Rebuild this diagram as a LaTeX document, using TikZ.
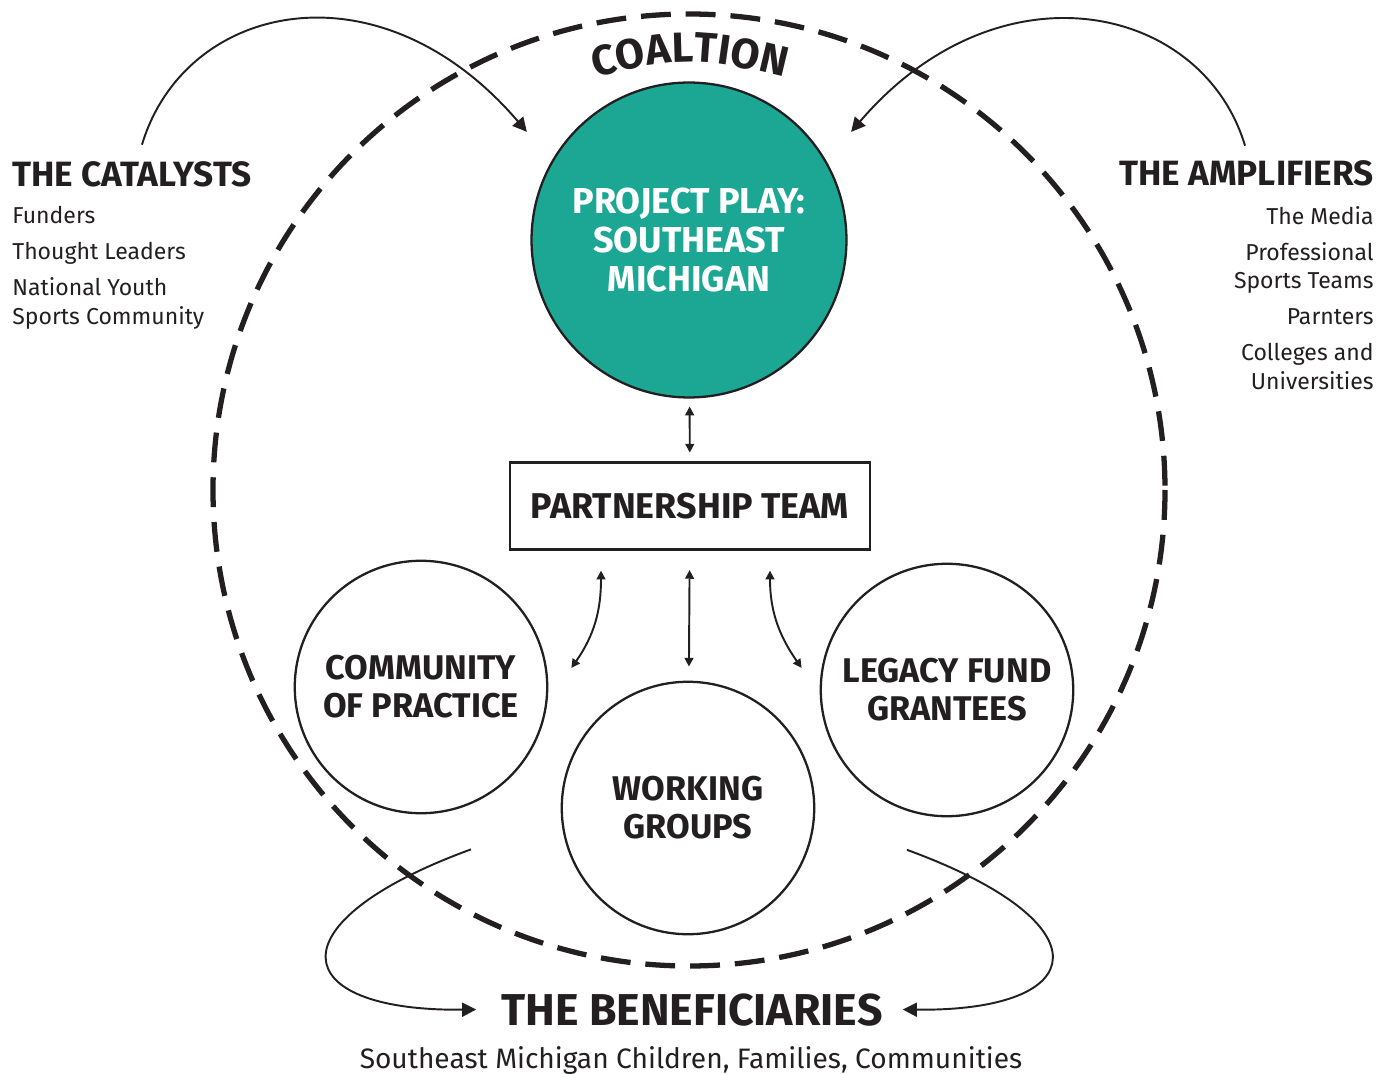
\documentclass[tikz,border=0pt]{standalone}
\usepackage{fontspec}
\setmainfont{Fira Sans}
\usetikzlibrary{arrows.meta,decorations.text}

\definecolor{ink}{RGB}{35,31,32}
\definecolor{teal}{RGB}{27,167,148}

\newcommand{\headfont}{\bfseries\fontsize{20pt}{22pt}\selectfont}
\newcommand{\listfont}{\fontsize{13.1pt}{16.4pt}\selectfont}

\tikzset{
  heading/.style={inner sep=0pt, text=ink, font=\headfont},
  listing/.style={inner sep=0pt, text=ink, font=\listfont},
  hub/.style={circle, draw=ink, line width=1.3pt, fill=teal, minimum size=6.3cm,
    text=white, align=center, font=\bfseries\fontsize{20.5pt}{22pt}\selectfont},
  group/.style={circle, draw=ink, line width=1.3pt, minimum size=5.05cm,
    text=ink, align=center, font=\bfseries\fontsize{19.5pt}{21.5pt}\selectfont},
  teambox/.style={draw=ink, line width=1.3pt, minimum width=7.2cm, minimum height=1.74cm,
    text=ink, font=\bfseries\fontsize{20.4pt}{22pt}\selectfont},
  link/.style={ink, line width=1.1pt, {Triangle[length=5pt,width=5pt]}-{Triangle[length=5pt,width=5pt]}},
  bigarrow/.style={ink, line width=1.1pt, -{Triangle[length=8pt,width=8pt]}}
}

\begin{document}
\begin{tikzpicture}[x=0.02cm,y=-0.02cm]
\useasboundingbox (0,0) rectangle (1390,1074);

% coalition ring
\draw[ink, line width=3pt, dash pattern=on 17pt off 8.5pt] (689,490) circle (476);
\path[decorate, decoration={text along path, text align=center,
    text={|\bfseries\fontsize{24pt}{26pt}\selectfont\color{ink}|COALTION}}]
  (540,92) .. controls (689,52) .. (840,92);

% centre and partners
\node[hub] (play) at (689,240) {PROJECT PLAY:\\SOUTHEAST\\MICHIGAN};
\node[teambox] (team) at (690,506) {PARTNERSHIP TEAM};
\node[group] (cop) at (421,687) {COMMUNITY\\OF PRACTICE};
\node[group] (work) at (688,808) {WORKING\\GROUPS};
\node[group] (fund) at (947,690) {LEGACY FUND\\GRANTEES};

\draw[link, shorten <=4.5pt, shorten >=5pt] (play) -- (team);
\draw[link, shorten <=11pt, shorten >=8pt] (team) -- (work);
\draw[link] ([xshift=-1.78cm,yshift=-0.4cm]team.south) to[out=-90,in=55]
  ([xshift=0.46cm,yshift=0.38cm]cop.east);
\draw[link] ([xshift=1.6cm,yshift=-0.4cm]team.south) to[out=-90,in=125]
  ([xshift=-0.36cm,yshift=0.44cm]fund.west);

% outside groups
\node[heading, anchor=base west] (cat) at (12,187) {THE CATALYSTS};
\node[listing, anchor=north west, align=left] (catlist) at (12,206)
  {Funders\\[4pt]Thought Leaders\\[4pt]National Youth\\Sports Community};
\node[heading, anchor=base east] (amp) at (1374,186) {THE AMPLIFIERS};
\node[listing, anchor=north east, align=right] (amplist) at (1374,206)
  {The Media\\[4pt]Professional\\Sports Teams\\[4pt]Parnters\\[4pt]Colleges and\\Universities};
\node[heading, anchor=base, font=\bfseries\fontsize{25.4pt}{27pt}\selectfont] (ben) at (692,1025) {THE BENEFICIARIES};
\node[listing, anchor=base, font=\fontsize{16pt}{18pt}\selectfont] (benlist) at (691,1068)
  {Southeast Michigan Children, Families, Communities};

\draw[bigarrow] ([xshift=2.6cm,yshift=0.34cm]cat.north west) .. controls +(43,-143) and +(-147,-172) ..
  ([xshift=-1cm,yshift=-0.08cm]play.north west);
\draw[bigarrow] ([xshift=-2.58cm,yshift=0.3cm]amp.north east) .. controls +(-43,-143) and +(147,-172) ..
  ([xshift=1cm,yshift=-0.08cm]play.north east);
\draw[bigarrow] ([xshift=1cm,yshift=-0.7cm]cop.south) .. controls +(-200,73) and +(-190,2) ..
  ([xshift=-0.5cm]ben.west);
\draw[bigarrow] ([xshift=-0.8cm,yshift=-0.65cm]fund.south) .. controls +(200,73) and +(190,2) ..
  ([xshift=0.4cm]ben.east);

\end{tikzpicture}
\end{document}
